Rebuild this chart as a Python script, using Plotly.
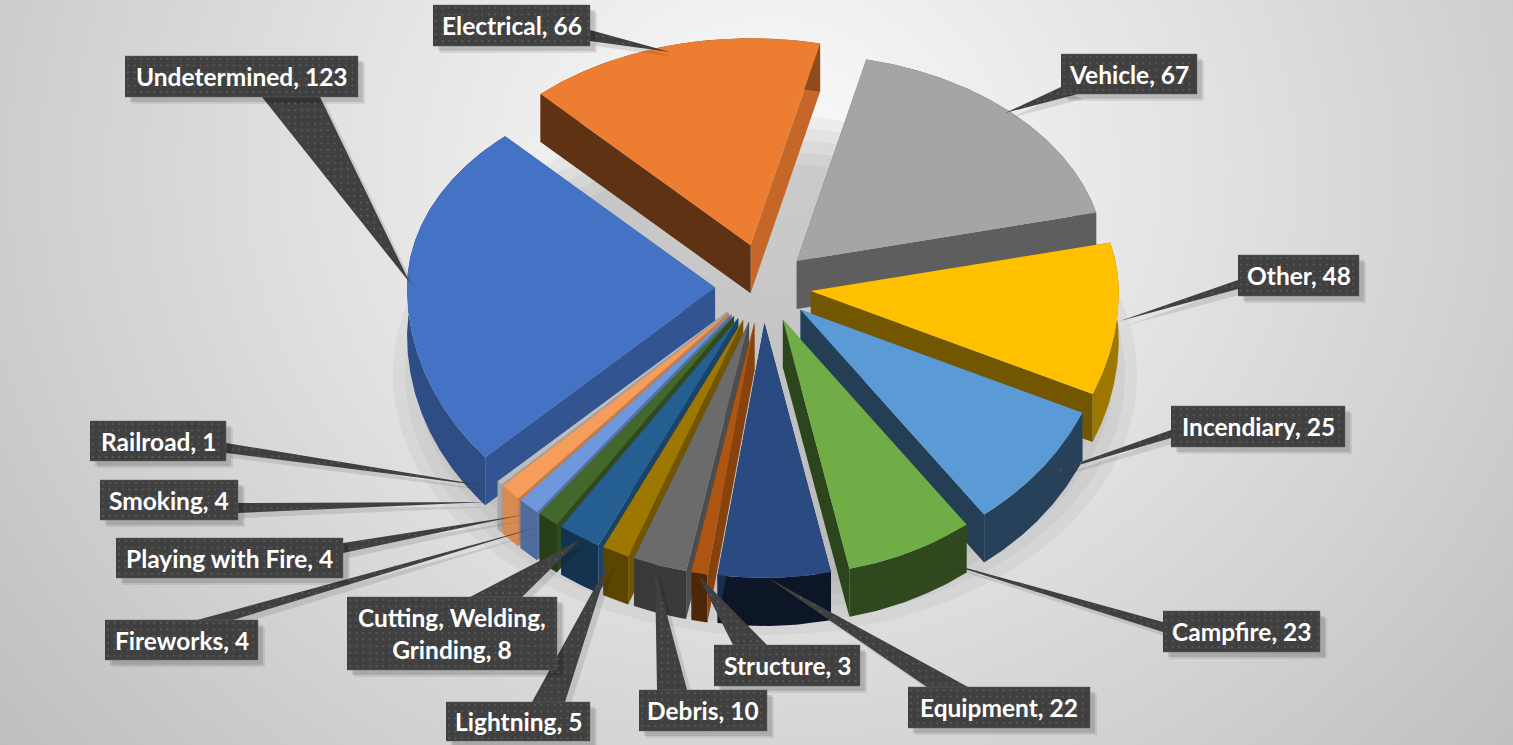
import numpy as np
import plotly.graph_objects as go

CATEGORIES = ["Electrical", "Vehicle", "Other", "Incendiary", "Campfire", "Equipment", "Structure",
              "Debris", "Lightning", "Cutting, Welding, Grinding", "Fireworks", "Playing with Fire",
              "Smoking", "Railroad", "Undetermined"]
VALUES = [66, 67, 48, 25, 23, 22, 3, 10, 5, 8, 4, 4, 4, 1, 123]
COLORS = ["#ED7D31", "#A5A5A5", "#FFC000", "#5B9BD5", "#70AD47", "#2A4A82", "#AE5512", "#6B6B6B",
          "#9E7700", "#255E91", "#43682B", "#6F97DC", "#F79D5C", "#BDBDBD", "#4472C4"]
# wall shading per slice: start wall, end wall, outer wall
START_SHADE = [.40, .6, .6, .6, .6, .6, .78, .72, .72, .72, .72, .75, .8, .85, .74]
END_SHADE = [.83, .57, .45, .40, .40, .6, .8, .7, .7, .7, .7, .75, .8, .85, .74]
OUTER_SHADE = [.6, .6, .62, .42, .42, .30, .45, .55, .58, .55, .6, .72, .88, .88, .68]
DRAW_ORDER = [0, 1, 14, 2, 3, 13, 12, 11, 10, 9, 8, 7, 6, 4, 5]

# view of the tilted pie (pixels and degrees)
CX, CY, RX, RY_BACK, RY_FRONT, DEPTH, EX, EY_BACK, EY_FRONT = 763, 288, 308, 207, 255, 48, 48, 45, 35
VIEW_IN = [0, 58, 116, 158, 180, 200, 219, 253, 360]
VIEW_OUT = [-43, 13.5, 76.5, 114, 144, 168, 189, 228.5, 317]

# callout label boxes and wedges, in pixels
BOXES = [(433, 5, 590, 46), (1061, 54, 1197, 94), (1238, 255, 1359, 296), (1171, 406, 1345, 447),
         (1163, 611, 1320, 652), (908, 687, 1090, 728), (714, 645, 860, 686), (639, 690, 767, 731),
         (446, 702, 590, 741), (347, 597, 557, 670), (105, 620, 258, 660), (116, 538, 343, 578),
         (100, 480, 238, 520), (90, 421, 226, 461), (125, 56, 358, 97)]
WEDGES = [((670, 52), (590, 30), (590, 41)), ((1005, 113), (1061, 87), (1078, 94)),
          ((1120, 321), (1238, 280), (1238, 289)), ((1041, 476), (1171, 430), (1171, 438)),
          ((930, 558), (1163, 622), (1163, 632)), ((768, 578), (927, 687), (968, 687)),
          ((698, 575), (733, 645), (767, 645)), ((655, 570), (657, 690), (687, 690)),
          ((610, 560), (532, 702), (565, 702)), ((580, 540), (470, 597), (522, 597)),
          ((538, 527), (197, 620), (233, 620)), ((522, 515), (343, 543), (343, 553)),
          ((487, 502), (238, 503), (238, 513)), ((493, 487), (226, 443), (226, 453)),
          ((410, 283), (262, 97), (320, 97))]


def shade(hex_color, f):
    r, g, b = [int(hex_color[i:i + 2], 16) for i in (1, 3, 5)]
    return f"rgb({int(r * f)},{int(g * f)},{int(b * f)})"


def view_angle(deg):
    return np.interp(deg, VIEW_IN, VIEW_OUT)


def rim(phi):
    p = np.radians(phi)
    s, c = np.sin(p), np.cos(p)
    ry = np.where(c > 0, RY_BACK, RY_FRONT)
    return RX * s, -ry * c


def poly(xs, ys, color, name=None, line=None):
    return go.Scatter(x=list(xs), y=list(ys), mode="lines", fill="toself", fillcolor=color,
                      line=dict(width=0.5 if line else 0, color=line or color),
                      hoverinfo="text" if name else "skip", text=name, showlegend=False)


W, H = 1513, 745
fig = go.Figure()

# background: soft radial gradient
gx = np.linspace(3, W, 80)
gy = np.linspace(0, H, 50)
GX, GY = np.meshgrid(gx, gy)
dist = np.sqrt(((GX - 770) / 770) ** 2 + ((GY - 170) / 700) ** 2)
fig.add_trace(go.Heatmap(x=gx, y=gy, z=np.clip(250 - 45 * dist ** 1.1, 0, 255), zmin=0, zmax=255,
                         colorscale=[[0, "rgb(0,0,0)"], [1, "rgb(255,255,255)"]], zsmooth="best",
                         showscale=False, hoverinfo="skip"))

# soft shadow below the pie
t = np.linspace(0, 2 * np.pi, 120)
for grow in (0, -12, -24, -36, -48):
    fig.add_trace(poly(765 + (372 + grow) * np.cos(t), 375 + (260 + grow) * np.sin(t), "rgba(60,60,60,0.05)"))

# slices
edges = np.cumsum([0] + VALUES) / sum(VALUES) * 360.0
geom = []
for i in range(len(VALUES)):
    a0, a1 = view_angle(edges[i]), view_angle(edges[i + 1])
    mid = view_angle((edges[i] + edges[i + 1]) / 2)
    c_mid = np.cos(np.radians(mid))
    tx = CX + EX * np.sin(np.radians(mid))
    ty = CY - (EY_BACK * c_mid * abs(c_mid) ** 0.5 if c_mid > 0 else EY_FRONT * c_mid)
    arc = np.linspace(a0, a1, max(6, int(a1 - a0) * 2))
    ax, ay = rim(arc)
    geom.append((tx, ty, tx + ax, ty + ay, mid))

for i in DRAW_ORDER:
    tx, ty, ax, ay, mid = geom[i]
    col = COLORS[i]
    name = f"{CATEGORIES[i]}: {VALUES[i]}"
    end_wall = poly([tx, ax[-1], ax[-1], tx], [ty, ay[-1], ay[-1] + DEPTH, ty + DEPTH], shade(col, END_SHADE[i]))
    start_wall = poly([tx, ax[0], ax[0], tx], [ty, ay[0], ay[0] + DEPTH, ty + DEPTH], shade(col, START_SHADE[i]))
    outer_wall = poly(np.r_[ax, ax[::-1]], np.r_[ay, ay[::-1] + DEPTH], shade(col, OUTER_SHADE[i]))
    # hidden radial wall, outer wall, visible radial wall, then the top surface
    if np.sin(np.radians(mid)) > 0:
        fig.add_traces([start_wall, outer_wall, end_wall])
    else:
        fig.add_traces([end_wall, outer_wall, start_wall])
    fig.add_trace(poly(np.r_[tx, ax], np.r_[ty, ay], col, name=name))

# callouts
LABEL_DARK = "#404040"
for w in WEDGES:
    fig.add_trace(poly([w[0][0] + 5, w[1][0] + 5, w[2][0] + 5], [w[0][1] + 5, w[1][1] + 5, w[2][1] + 5], "rgba(0,0,0,0.10)"))
for w in WEDGES:
    fig.add_trace(poly([p[0] for p in w], [p[1] for p in w], LABEL_DARK))
for x0, y0, x1, y1 in BOXES:
    for off, alpha in ((7, .08), (5, .12)):
        fig.add_trace(poly([x0 + off, x1 + off, x1 + off, x0 + off], [y0 + off, y0 + off, y1 + off, y1 + off], f"rgba(0,0,0,{alpha})"))
for x0, y0, x1, y1 in BOXES:
    fig.add_trace(poly([x0, x1, x1, x0], [y0, y0, y1, y1], LABEL_DARK, line="#666666"))

# dotted texture of the label boxes and wedges
dx, dy = [], []
for x0, y0, x1, y1 in BOXES:
    for yy in np.arange(y0 + 3, y1 - 1, 6.6):
        for xx in np.arange(x0 + 3, x1 - 1, 6.6):
            dx.append(xx)
            dy.append(yy)
for (a, b, c) in WEDGES:
    xmin, xmax = min(a[0], b[0], c[0]), max(a[0], b[0], c[0])
    ymin, ymax = min(a[1], b[1], c[1]), max(a[1], b[1], c[1])
    den = (b[1] - c[1]) * (a[0] - c[0]) + (c[0] - b[0]) * (a[1] - c[1])
    for yy in np.arange(ymin, ymax, 6.6):
        for xx in np.arange(xmin, xmax, 6.6):
            l1 = ((b[1] - c[1]) * (xx - c[0]) + (c[0] - b[0]) * (yy - c[1])) / den
            l2 = ((c[1] - a[1]) * (xx - c[0]) + (a[0] - c[0]) * (yy - c[1])) / den
            if l1 > 0.02 and l2 > 0.05 and 1 - l1 - l2 > 0.05:
                dx.append(xx)
                dy.append(yy)
fig.add_trace(go.Scatter(x=dx, y=dy, mode="markers", marker=dict(size=2, color="#5c5c5c"),
                         hoverinfo="skip", showlegend=False))

for i, (x0, y0, x1, y1) in enumerate(BOXES):
    label = f"{CATEGORIES[i]}, {VALUES[i]}"
    if CATEGORIES[i].startswith("Cutting"):
        label = f"Cutting, Welding,<br>Grinding, {VALUES[i]}"
    fig.add_annotation(x=(x0 + x1) / 2, y=(y0 + y1) / 2, text=label, showarrow=False,
                       font=dict(family="Lato", size=24.5, color="white", weight="bold"), align="center")

fig.update_layout(width=W, height=H, margin=dict(l=0, r=0, t=0, b=0), paper_bgcolor="white",
                  plot_bgcolor="white", showlegend=False,
                  xaxis=dict(range=[0, W], visible=False, fixedrange=True),
                  yaxis=dict(range=[H, 0], visible=False, fixedrange=True))
fig.write_html("out.html", config=dict(displayModeBar=False),
               post_script="document.body.style.margin='0';document.body.style.overflow='hidden';")
